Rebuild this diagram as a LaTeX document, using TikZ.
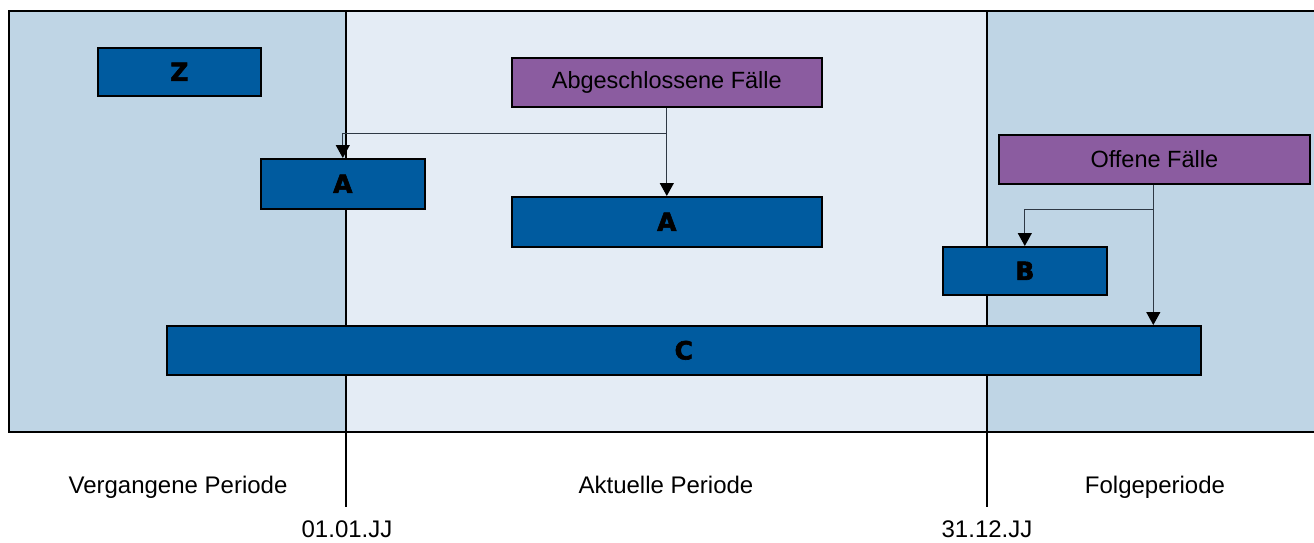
\documentclass[tikz,border=0pt]{standalone}
\usepackage{fontspec}
\setmainfont{Liberation Sans}
\newfontfamily\heavyfont{DejaVu Sans}[FakeBold=2.5]
\usetikzlibrary{arrows.meta}
\definecolor{panelside}{HTML}{BFD5E5}
\definecolor{panelmid}{HTML}{E4ECF5}
\definecolor{barblue}{HTML}{005B9F}
\definecolor{casepurple}{HTML}{8B5CA0}
\definecolor{connline}{HTML}{2E3844}
\tikzset{
  bar/.style={draw=black, line width=1.6pt, fill=barblue, inner sep=0pt, anchor=north west,
    font=\heavyfont\fontsize{25}{28}\selectfont\bfseries},
  casebox/.style={draw=black, line width=1.6pt, fill=casepurple, inner sep=0pt, anchor=north west,
    font=\fontsize{23.5}{26}\selectfont},
  conn/.style={draw=connline, line width=1.2pt},
  arr/.style={conn, -{Triangle[width=14pt,length=13pt,fill=black,color=black]}},
  periodlabel/.style={font=\fontsize{24}{27}\selectfont, anchor=base, inner sep=0pt},
  divider/.style={draw=black, line width=1.5pt},
}
\begin{document}
\begin{tikzpicture}[x=1pt,y=-1pt]
\useasboundingbox (0,0) rectangle (1314,542);
% panels
\fill[panelside] (9,11) rectangle (346,432);
\fill[panelmid] (346,11) rectangle (987,432);
\fill[panelside] (987,11) rectangle (1314,432);
\draw[line width=2pt] (1316,11) -- (9,11) -- (9,432) -- (1316,432);
% dividers
\coordinate (d1top) at (346,11);
\coordinate (d1bot) at (346,507);
\coordinate (d2top) at (987,11);
\coordinate (d2bot) at (987,507);
\draw[divider] (d1top) -- (d1bot);
\draw[divider] (d2top) -- (d2bot);
% boxes
\node[bar, minimum width=163pt, minimum height=48pt] (z) at (97,47) {Z};
\node[bar, minimum width=164pt, minimum height=50pt] (a1) at (260,158) {A};
\node[casebox, minimum width=310pt, minimum height=49pt] (abg) at (511,57) {Abgeschlossene Fälle};
\node[bar, minimum width=310pt, minimum height=50pt] (a2) at (511,196) {A};
\node[casebox, minimum width=311pt, minimum height=49pt] (off) at (998,134) {Offene Fälle};
\node[bar, minimum width=164pt, minimum height=48pt] (b) at (942,246) {B};
\node[bar, minimum width=1034pt, minimum height=49pt] (c) at (166,325) {C};
% connectors
\draw[arr] (abg.south) -- (a2.north);
\draw[arr] (abg.south) -- ++(0,26) -| (a1.north);
\draw[arr] ([xshift=-1pt]off.south) -- ([xshift=-1pt]off.south |- c.north);
\draw[arr] ([xshift=-1pt]off.south) -- ++(0,25) -| (b.north);
% labels
\node[periodlabel] (lv) at (178,493) {Vergangene Periode};
\node[periodlabel] (la) at (666,493) {Aktuelle Periode};
\node[periodlabel] (lf) at (1155,493) {Folgeperiode};
\node[periodlabel] (d1) at (347,537) {01.01.JJ};
\node[periodlabel] (d2) at (987,537) {31.12.JJ};
\end{tikzpicture}
\end{document}
